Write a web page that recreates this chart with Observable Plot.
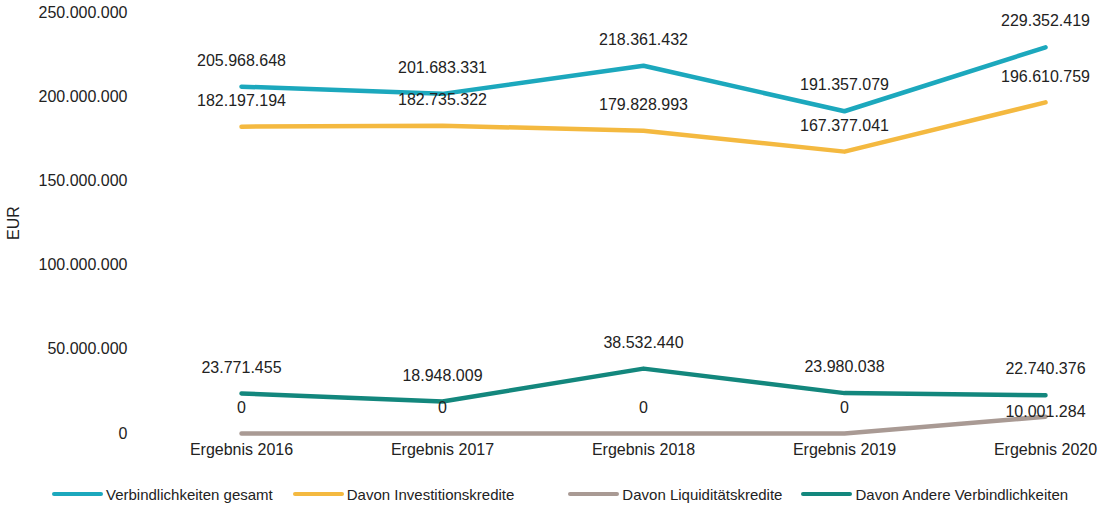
<!DOCTYPE html>
<html>
<head>
<meta charset="utf-8">
<script src="https://cdn.jsdelivr.net/npm/d3@7"></script>
<script src="https://cdn.jsdelivr.net/npm/@observablehq/plot@0.6"></script>
<style>
  html, body { margin: 0; padding: 0; background: #fff; }
  body { width: 1106px; height: 508px; overflow: hidden; font-family: "Liberation Sans", Arial, sans-serif; }
  #legend { display: flex; justify-content: flex-start; align-items: center; height: 24px; margin-top: 12px; padding-left: 52px; font-size: 15px; color: #222; }
  .item { display: flex; align-items: center; }
  .sw { width: 51px; height: 4px; border-radius: 2px; margin-right: 3px; }
</style>
</head>
<body>
<div id="chart"></div>
<div id="legend"></div>
<script>
const categories = ["Ergebnis 2016", "Ergebnis 2017", "Ergebnis 2018", "Ergebnis 2019", "Ergebnis 2020"];
const seriesNames = ["Verbindlichkeiten gesamt", "Davon Investitionskredite", "Davon Liquiditätskredite", "Davon Andere Verbindlichkeiten"];
const gesamt = [205968648, 201683331, 218361432, 191357079, 229352419];
const investitionskredite = [182197194, 182735322, 179828993, 167377041, 196610759];
const liquiditaetskredite = [0, 0, 0, 0, 10001284];
const andere = [23771455, 18948009, 38532440, 23980038, 22740376];
const yTicks = [0, 50000000, 100000000, 150000000, 200000000, 250000000];
const colors = ["#1ca8bd", "#f4b940", "#a99a94", "#13877d"];

const seriesValues = [gesamt, investitionskredite, liquiditaetskredite, andere];
const data = [];
seriesNames.forEach((s, i) => categories.forEach((c, j) => data.push({series: s, cat: c, value: seriesValues[i][j]})));

const de = d3.formatLocale({decimal: ",", thousands: ".", grouping: [3], currency: ["", " €"]});
const fmt = de.format(",d");

const isLow = d => d.series === seriesNames[2] && d.value > 0;

const chart = Plot.plot({
  width: 1106,
  height: 470,
  marginLeft: 135,
  marginRight: 60,
  marginTop: 12,
  marginBottom: 37,
  style: {fontFamily: "'Liberation Sans', Arial, sans-serif", fontSize: "16px", color: "#222", background: "#fff"},
  x: {type: "point", domain: categories, padding: 0, insetLeft: 105},
  y: {domain: [0, 250000000]},
  color: {domain: seriesNames, range: colors},
  marks: [
    Plot.axisY({ticks: yTicks, tickFormat: fmt, tickSize: 0, tickPadding: 8, label: "EUR", labelAnchor: "center", labelArrow: "none", labelOffset: 128, fontSize: 16}),
    Plot.axisX({tickSize: 0, tickPadding: 10, label: null, fontSize: 16}),
    Plot.line(data, {x: "cat", y: "value", z: "series", stroke: "series", strokeWidth: 4.5, strokeLinecap: "round", strokeLinejoin: "round"}),
    Plot.text(data.filter(d => !isLow(d)), {x: "cat", y: "value", text: d => fmt(d.value), dy: -26, fill: "#222", fontSize: 16}),
    Plot.text(data.filter(isLow), {x: "cat", y: "value", text: d => fmt(d.value), dy: -5, fill: "#222", fontSize: 16})
  ]
});
document.getElementById("chart").appendChild(chart);

const gaps = [20, 54, 19, 0];
const legend = document.getElementById("legend");
seriesNames.forEach((s, i) => {
  const it = document.createElement("div");
  it.className = "item";
  it.style.marginRight = gaps[i] + "px";
  const sw = document.createElement("span");
  sw.className = "sw";
  sw.style.background = colors[i];
  const tx = document.createElement("span");
  tx.textContent = s;
  it.appendChild(sw);
  it.appendChild(tx);
  legend.appendChild(it);
});
</script>
</body>
</html>
